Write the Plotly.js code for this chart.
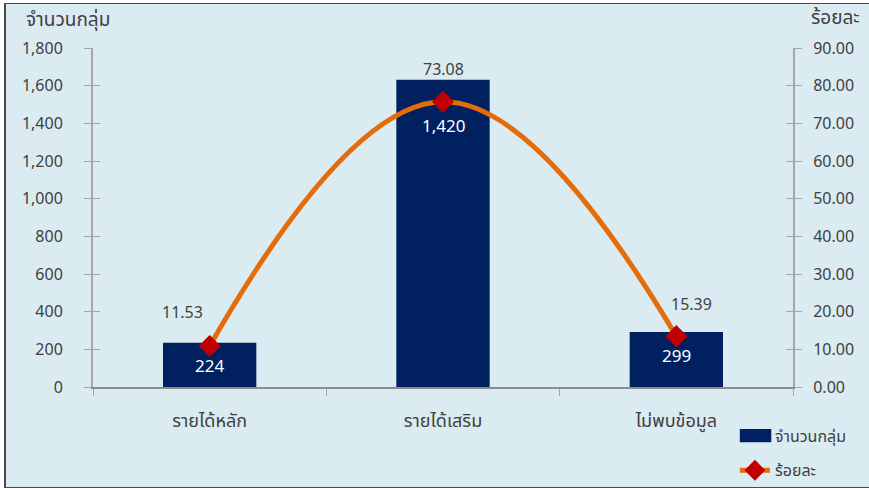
<!DOCTYPE html>
<html>
<head>
<meta charset="utf-8">
<script src="https://cdn.plot.ly/plotly-3.0.1.min.js"></script>
<style>
  html, body { margin: 0; padding: 0; background: #ffffff; }
  #frame { position: absolute; left: 4px; top: 3px; width: 865px; height: 485px; box-sizing: border-box;
           border-left: 2px solid #4a4a4a; border-top: 1px solid #4a4a4a; border-bottom: 1px solid #4a4a4a; }
  #chart { width: 863px; height: 483px; }
</style>
</head>
<body>
<div id="frame"><div id="chart"></div></div>
<script>
// ---- data ----
const categories = ['รายได้หลัก', 'รายได้เสริม', 'ไม่พบข้อมูล'];
const barHeights = [235, 1632, 292];          // drawn bar heights (left axis)
const countLabels = ['224', '1,420', '299'];  // printed count labels
const pctPoints = [10.9, 75.7, 13.5];         // drawn line points (right axis)
const pctLabels = ['11.53', '73.08', '15.39'];// printed percentage labels
const seriesNames = ['จำนวนกลุ่ม', 'ร้อยละ'];
const leftTitle = 'จำนวนกลุ่ม';
const rightTitle = 'ร้อยละ';

const FONT = 'Noto Sans, "Noto Sans Thai", Tahoma, sans-serif';
const TXT = '#404040';
const BG = '#daecf2';
const NAVY = '#002060';

const traces = [
  {
    type: 'bar', x: categories, y: barHeights, name: seriesNames[0],
    marker: { color: NAVY, line: { width: 0 } },
    width: 0.4, yaxis: 'y', legendgroup: 'a', hoverinfo: 'skip'
  },
  {
    type: 'scatter', mode: 'lines+markers', x: categories, y: pctPoints, name: seriesNames[1],
    yaxis: 'y2', legendgroup: 'b',
    line: { color: '#e46c0a', width: 5, shape: 'spline', smoothing: 1.2 },
    marker: { symbol: 'diamond', size: 17, color: '#c00000' }, hoverinfo: 'skip'
  }
];

const annotations = [];
const countShift = [-23, -46, -23];
const pctXShift = [-27, 0, 15];
const pctYShift = [34, 33, 32];
categories.forEach((c, i) => {
  annotations.push({ x: c, y: barHeights[i], xref: 'x', yref: 'y', text: countLabels[i],
    showarrow: false, yshift: countShift[i], font: { family: FONT, size: 17, color: '#ffffff' } });
  annotations.push({ x: c, y: pctPoints[i], xref: 'x', yref: 'y2', text: pctLabels[i],
    showarrow: false, xshift: pctXShift[i], yshift: pctYShift[i], font: { family: FONT, size: 16, color: TXT } });
});
annotations.push({ xref: 'paper', yref: 'paper', x: -0.098, y: 1.085, xanchor: 'left', yanchor: 'middle',
  text: leftTitle, showarrow: false, font: { family: FONT, size: 19, color: TXT } });
annotations.push({ xref: 'paper', yref: 'paper', x: 1.098, y: 1.09, xanchor: 'right', yanchor: 'middle',
  text: rightTitle, showarrow: false, font: { family: FONT, size: 19, color: TXT } });

const axisBase = { showgrid: false, zeroline: false, fixedrange: true };

const layout = {
  width: 863, height: 483,
  margin: { l: 87, r: 76, t: 44, b: 100, autoexpand: false },
  paper_bgcolor: BG, plot_bgcolor: BG,
  font: { family: FONT, color: TXT, size: 16 },
  showlegend: true,
  legend: { x: 0.917, y: -0.093, xanchor: 'left', yanchor: 'top', bgcolor: 'rgba(0,0,0,0)',
            font: { family: FONT, size: 16, color: TXT }, tracegroupgap: 11, traceorder: 'grouped' },
  shapes: [
    // widen the bar legend swatch to the reference's rectangle
    { type: 'rect', xref: 'paper', yref: 'paper', x0: 0.924, x1: 0.969, y0: -0.163, y1: -0.124,
      fillcolor: NAVY, line: { width: 0 }, layer: 'above' }
  ],
  xaxis: Object.assign({}, axisBase, {
    type: 'category', range: [-0.5, 2.5], showline: true, linecolor: '#8c8c8c', linewidth: 2,
    ticks: 'outside', tickson: 'boundaries', ticklen: 7, tickcolor: '#a6a6a6', tickwidth: 1,
    tickfont: { family: FONT, size: 18, color: TXT }, ticklabelstandoff: 16
  }),
  yaxis: Object.assign({}, axisBase, {
    range: [0, 1800], dtick: 200, tickformat: ',', showline: true, linecolor: '#a6a6a6', linewidth: 2,
    ticks: 'outside', ticklen: 7, tickcolor: '#a6a6a6', tickfont: { family: FONT, size: 16, color: TXT },
    ticklabelstandoff: 18
  }),
  yaxis2: Object.assign({}, axisBase, {
    range: [0, 90], dtick: 10, tickformat: '.2f', overlaying: 'y', side: 'right', anchor: 'x',
    showline: true, linecolor: '#a6a6a6', linewidth: 2,
    ticks: 'outside', ticklen: 7, tickcolor: '#a6a6a6', tickfont: { family: FONT, size: 16, color: TXT },
    ticklabelstandoff: 8
  }),
  yaxis3: Object.assign({}, axisBase, {
    range: [0, 1800], dtick: 200, overlaying: 'y', side: 'left', anchor: 'x', showline: false,
    ticks: 'inside', ticklen: 7, tickcolor: '#a6a6a6', showticklabels: false
  }),
  yaxis4: Object.assign({}, axisBase, {
    range: [0, 90], dtick: 10, overlaying: 'y', side: 'right', anchor: 'x', showline: false,
    ticks: 'inside', ticklen: 7, tickcolor: '#a6a6a6', showticklabels: false
  }),
  annotations: annotations
};

// invisible helpers so the tick-only axes render
traces.push({ type: 'scatter', x: [categories[0]], y: [0], yaxis: 'y3', showlegend: false, hoverinfo: 'skip', mode: 'markers', marker: { opacity: 0 } });
traces.push({ type: 'scatter', x: [categories[0]], y: [0], yaxis: 'y4', showlegend: false, hoverinfo: 'skip', mode: 'markers', marker: { opacity: 0 } });

Plotly.newPlot('chart', traces, layout, { displayModeBar: false, staticPlot: true });
</script>
</body>
</html>
